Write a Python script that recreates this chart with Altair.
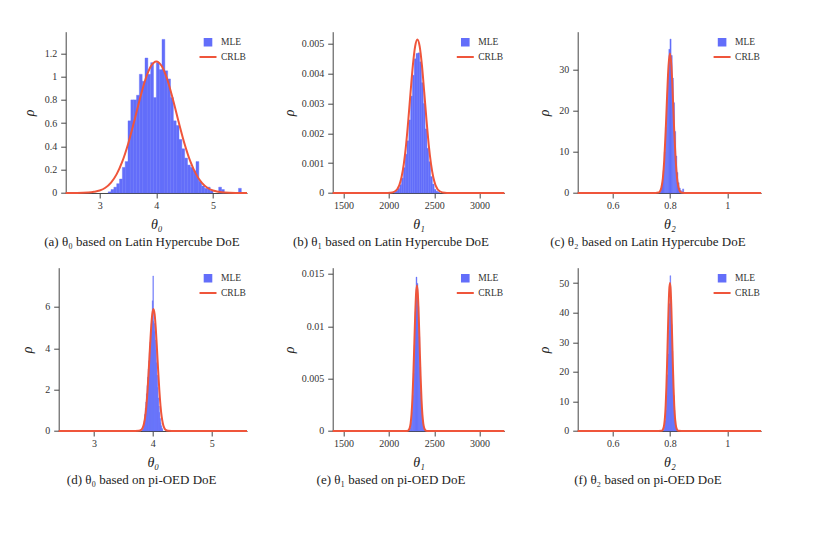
import altair as alt
import pandas as pd

BLUE = "#636EFA"
RED = "#EF553B"
FONT = "Liberation Serif, Times New Roman, serif"
SERIES = ["MLE", "CRLB"]
SHAPES = ["M-0.66,-0.66H0.66V0.66H-0.66Z", "M-1.7,0H1.7"]

# ---------------- (a) theta0, Latin Hypercube ----------------
a_bin_width = 0.05
a_bin_start = [3.15, 3.20, 3.25, 3.30, 3.35, 3.40, 3.45, 3.50, 3.55, 3.60,
               3.65, 3.70, 3.75, 3.80, 3.85, 3.90, 3.95, 4.00, 4.05, 4.10,
               4.15, 4.20, 4.25, 4.30, 4.35, 4.40, 4.45, 4.50, 4.55, 4.60,
               4.65, 4.70, 4.75, 4.80, 4.85, 4.90, 4.95, 5.10, 5.15, 5.45]
a_density = [0.01, 0.03, 0.05, 0.08, 0.12, 0.22, 0.27, 0.62, 0.80, 0.80,
             0.84, 1.02, 0.96, 1.16, 1.02, 1.12, 0.82, 1.12, 1.06, 1.32,
             1.05, 0.98, 0.82, 0.62, 0.58, 0.46, 0.38, 0.30, 0.24, 0.22,
             0.19, 0.27, 0.10, 0.06, 0.04, 0.05, 0.02, 0.05, 0.03, 0.04]
a_curve_x = [2.4, 2.6, 2.8, 2.9, 3.0, 3.1, 3.2, 3.3, 3.4, 3.5, 3.6, 3.7, 3.8, 3.9, 4.0,
             4.1, 4.2, 4.3, 4.4, 4.5, 4.6, 4.7, 4.8, 4.9, 5.0, 5.1, 5.2, 5.4, 5.6]
a_curve_y = [0.0, 0.0005, 0.004, 0.01, 0.021, 0.045, 0.089, 0.162, 0.271, 0.419, 0.599, 0.791, 0.964, 1.086, 1.13,
             1.086, 0.964, 0.791, 0.599, 0.419, 0.271, 0.162, 0.089, 0.045, 0.021, 0.01, 0.004, 0.0005, 0.0]

# ---------------- (b) theta1, Latin Hypercube ----------------
b_bin_width = 20
b_bin_start = [2060, 2080, 2100, 2120, 2140, 2160, 2180, 2200, 2220, 2240, 2260, 2280, 2300,
               2320, 2340, 2360, 2380, 2400, 2420, 2440, 2460, 2480, 2500, 2520, 2540, 2600]
b_density = [0.00003, 0.00008, 0.00015, 0.00028, 0.00050, 0.00085, 0.00130, 0.00175, 0.00245,
             0.00325, 0.00395, 0.00450, 0.00468, 0.00470, 0.00440, 0.00370, 0.00300, 0.00215,
             0.00150, 0.00105, 0.00055, 0.00030, 0.00012, 0.00006, 0.00003, 0.00002]
b_curve_x = [1382, 1965, 2015, 2065, 2115, 2140, 2165, 2190, 2215, 2240, 2265, 2290, 2315,
             2340, 2365, 2390, 2415, 2440, 2465, 2490, 2515, 2565, 2615, 2665, 3272]
b_curve_y = [0, 0, 0.000006, 0.00005, 0.00026, 0.00053, 0.00097, 0.00161, 0.00245, 0.00339, 0.00428, 0.00492, 0.00515,
             0.00492, 0.00428, 0.00339, 0.00245, 0.00161, 0.00097, 0.00053, 0.00026, 0.00005, 0.000006, 0, 0]

# ---------------- (c) theta2, Latin Hypercube ----------------
c_bin_width = 0.004
c_bin_start = [0.764, 0.768, 0.772, 0.776, 0.780, 0.784, 0.788, 0.792, 0.796, 0.800, 0.804,
               0.808, 0.812, 0.816, 0.820, 0.824, 0.828, 0.832, 0.836, 0.840, 0.844]
c_density = [0.3, 1.0, 2.5, 5.5, 10, 16, 23, 29, 35, 37.5, 33.5, 28, 22, 15, 9, 5, 2.5, 1.2, 0.6, 0.3, 1.0]
c_curve_x = [0.478, 0.75, 0.76, 0.765, 0.77, 0.775, 0.78, 0.785, 0.79, 0.795, 0.8,
             0.805, 0.81, 0.815, 0.82, 0.825, 0.83, 0.835, 0.84, 0.85, 1.118]
c_curve_y = [0, 0, 0.1, 0.39, 1.27, 3.47, 7.9, 14.9, 23.6, 31.0, 34,
             31.0, 23.6, 14.9, 7.9, 3.47, 1.27, 0.39, 0.1, 0, 0]

# ---------------- (d) theta0, pi-OED ----------------
d_bin_width = 0.01
d_bin_start = [3.82, 3.83, 3.84, 3.85, 3.86, 3.87, 3.88, 3.89, 3.90, 3.91, 3.92, 3.93, 3.94, 3.95,
               3.96, 3.97, 3.98, 3.99, 4.00, 4.01, 4.02, 4.03, 4.04, 4.05, 4.06, 4.07, 4.08, 4.09,
               4.10, 4.11, 4.12, 4.13, 4.14, 4.15, 4.16]
d_density = [0.05, 0.1, 0.3, 0.5, 0.8, 1.1, 1.4, 1.8, 2.2, 2.6, 3.0, 3.4, 3.8, 4.3,
             4.8, 5.2, 5.5, 6.3, 7.5, 5.3, 5.2, 4.8, 4.4, 3.9, 3.3, 2.7, 2.1, 1.6,
             1.2, 0.9, 0.6, 0.4, 0.25, 0.15, 0.08]
d_curve_x = [2.4, 3.7, 3.76, 3.81, 3.83, 3.85, 3.87, 3.89, 3.91, 3.93, 3.95, 3.97, 3.99, 4.01,
             4.03, 4.05, 4.07, 4.09, 4.11, 4.13, 4.15, 4.17, 4.19, 4.21, 4.26, 4.32, 5.6]
d_curve_y = [0, 0, 0.006, 0.074, 0.17, 0.36, 0.69, 1.22, 1.98, 2.93, 3.98, 4.95, 5.65, 5.9,
             5.65, 4.95, 3.98, 2.93, 1.98, 1.22, 0.69, 0.36, 0.17, 0.074, 0.006, 0, 0]

# ---------------- (e) theta1, pi-OED ----------------
e_bin_width = 10
e_bin_start = [2220, 2230, 2240, 2250, 2260, 2270, 2280, 2290, 2300,
               2310, 2320, 2330, 2340, 2350, 2360, 2370, 2380, 2390]
e_density = [0.0001, 0.0003, 0.0008, 0.0018, 0.0034, 0.0055, 0.0082, 0.0114, 0.0147,
             0.0141, 0.0119, 0.0090, 0.0061, 0.0037, 0.0020, 0.0009, 0.0004, 0.0001]
e_curve_x = [1382, 2180, 2210, 2220, 2230, 2240, 2250, 2260, 2270, 2280, 2290, 2300, 2310,
             2320, 2330, 2340, 2350, 2360, 2370, 2380, 2390, 2400, 2410, 2440, 3272]
e_curve_y = [0, 0, 0.00003, 0.0001, 0.000285, 0.00071, 0.00156, 0.00305, 0.00527, 0.00805, 0.0109, 0.01308, 0.0139,
             0.01308, 0.0109, 0.00805, 0.00527, 0.00305, 0.00156, 0.00071, 0.000285, 0.0001, 0.00003, 0, 0]

# ---------------- (f) theta2, pi-OED ----------------
f_bin_width = 0.0025
f_bin_start = [0.7775, 0.7800, 0.7825, 0.7850, 0.7875, 0.7900, 0.7925, 0.7950, 0.7975, 0.8000,
               0.8025, 0.8050, 0.8075, 0.8100, 0.8125, 0.8150, 0.8175, 0.8200, 0.8225]
f_density = [0.4, 1.5, 3.5, 7, 12, 19, 26, 34, 43, 52.5, 44, 36, 27, 19, 12, 7, 3.5, 1.5, 0.5]
f_curve_x = [0.478, 0.76, 0.77, 0.775, 0.78, 0.7825, 0.785, 0.7875, 0.79, 0.7925, 0.795, 0.7975, 0.8,
             0.8025, 0.805, 0.8075, 0.81, 0.8125, 0.815, 0.8175, 0.82, 0.825, 0.83, 0.84, 1.118]
f_curve_y = [0, 0, 0.04, 0.37, 2.2, 4.5, 8.55, 14.7, 22.8, 32.1, 41.1, 47.6, 50,
             47.6, 41.1, 32.1, 22.8, 14.7, 8.55, 4.5, 2.2, 0.37, 0.04, 0, 0]

H1 = 161.3
H2 = 163.3


def legend_spec(W):
    return alt.Legend(title=None, orient="none", legendX=W - 45, legendY=4.5,
                      labelFont=FONT, labelFontSize=9.5, labelColor="#333",
                      symbolSize=100, symbolStrokeWidth=2, symbolOpacity=1,
                      labelOffset=7, rowPadding=0.8, padding=0)


def make_panel(bin_start, dens, bw, cx, cy, xdom, ydom, xticks, yticks,
               xtitle, caption, W, H, rho_x, cap_dx):
    bars = pd.DataFrame({"lo": bin_start, "hi": [b + bw for b in bin_start], "rho": dens})
    curve = pd.DataFrame({"lo": cx, "rho": cy})
    leg = pd.DataFrame({"series": SERIES})
    xs = alt.Scale(domain=xdom, nice=False, zero=False)
    ys = alt.Scale(domain=ydom, nice=False, zero=False)
    xaxis = alt.Axis(values=xticks, format="~r", title=xtitle, labelPadding=3,
                     titlePadding=7, titleFontStyle="italic")
    yaxis = alt.Axis(values=yticks, format="~r", title="ρ", labelPadding=4,
                     titleX=rho_x, titleY=H / 2, titleAngle=270,
                     titleAlign="center", titleBaseline="middle", titleFontStyle="italic")
    hist = alt.Chart(bars).mark_bar(color=BLUE, stroke=BLUE, strokeWidth=0.4).encode(
        x=alt.X("lo:Q", scale=xs, axis=xaxis),
        x2="hi:Q",
        y=alt.Y("rho:Q", scale=ys, axis=yaxis),
        y2=alt.datum(0),
    )
    line = alt.Chart(curve).mark_line(color=RED, strokeWidth=2, interpolate="monotone").encode(
        x=alt.X("lo:Q", scale=xs, axis=xaxis),
        y=alt.Y("rho:Q", scale=ys, axis=yaxis),
    )
    lg = legend_spec(W)
    key = alt.Chart(leg).mark_point(opacity=0, filled=True).encode(
        fill=alt.Fill("series:N", scale=alt.Scale(domain=SERIES, range=[BLUE, RED]), legend=lg),
        stroke=alt.Stroke("series:N", scale=alt.Scale(domain=SERIES, range=[BLUE, RED]), legend=lg),
        shape=alt.Shape("series:N", scale=alt.Scale(domain=SERIES, range=SHAPES), legend=lg),
    )
    return alt.layer(hist, line, key).properties(
        width=W, height=H,
        title=alt.TitleParams(text=caption, orient="bottom", anchor="middle", frame="group",
                              dx=cap_dx, offset=4, font=FONT, fontSize=13,
                              fontWeight="normal", color="#222"),
    )


def spacer(w, h):
    return alt.Chart(pd.DataFrame({"v": [0]})).mark_point(opacity=0).properties(width=w, height=h)


pa = make_panel(a_bin_start, a_density, a_bin_width, a_curve_x, a_curve_y, [2.4, 5.6], [0, 1.386],
                [3, 4, 5], [0, 0.2, 0.4, 0.6, 0.8, 1, 1.2], "θ₀",
                "(a)  θ₀ based on Latin Hypercube DoE", 181.3, H1, -36.7, -14.4)
pb = make_panel(b_bin_start, b_density, b_bin_width, b_curve_x, b_curve_y, [1382, 3272], [0, 0.00541],
                [1500, 2000, 2500, 3000], [0, 0.001, 0.002, 0.003, 0.004, 0.005], "θ₁",
                "(b)  θ₁ based on Latin Hypercube DoE", 171.6, H1, -43, -27.5)
pc = make_panel(c_bin_start, c_density, c_bin_width, c_curve_x, c_curve_y, [0.478, 1.118], [0, 39.3],
                [0.6, 0.8, 1], [0, 10, 20, 30], "θ₂",
                "(c)  θ₂ based on Latin Hypercube DoE", 183.4, H1, -33.3, -21.5)
pd_ = make_panel(d_bin_start, d_density, d_bin_width, d_curve_x, d_curve_y, [2.4, 5.6], [0, 7.9],
                 [3, 4, 5], [0, 2, 4, 6], "θ₀",
                 "(d)  θ₀ based on pi-OED DoE", 188.3, H2, -31, -11.2)
pe = make_panel(e_bin_start, e_density, e_bin_width, e_curve_x, e_curve_y, [1382, 3272], [0, 0.0156],
                [1500, 2000, 2500, 3000], [0, 0.005, 0.01, 0.015], "θ₁",
                "(e)  θ₁ based on pi-OED DoE", 171.6, H2, -43, -27.5)
pf = make_panel(f_bin_start, f_density, f_bin_width, f_curve_x, f_curve_y, [0.478, 1.118], [0, 55.2],
                [0.6, 0.8, 1], [0, 10, 20, 30, 40, 50], "θ₂",
                "(f)  θ₂ based on pi-OED DoE", 183.4, H2, -33.3, -21.5)

IND = dict(fill="independent", stroke="independent", shape="independent")

row1 = alt.hconcat(spacer(6.7, H1), pa, spacer(84.7, H1), pb, spacer(73, H1), pc,
                   spacing=0, bounds="flush")
row1 = row1.resolve_scale(**IND).resolve_legend(**IND)
row2 = alt.hconcat(pd_, spacer(84.4, H2), pe, spacer(73, H2), pf, spacing=0, bounds="flush")
row2 = row2.resolve_scale(**IND).resolve_legend(**IND)

chart = alt.vconcat(row1, row2, spacing=18)
chart = chart.resolve_scale(**IND).resolve_legend(**IND)
chart = chart.properties(padding={"left": 12.7, "top": 23.7, "right": 5, "bottom": 5})
chart = chart.configure_view(strokeWidth=0).configure_axis(
    grid=False, domainColor="#444", tickColor="#444", domainWidth=1, tickWidth=1, tickSize=5,
    labelFont=FONT, labelFontSize=10, labelColor="#333",
    titleFont=FONT, titleFontSize=14, titleColor="#222", titleFontWeight="normal",
)

chart.save("out.html", embed_options={"renderer": "svg", "actions": False})
